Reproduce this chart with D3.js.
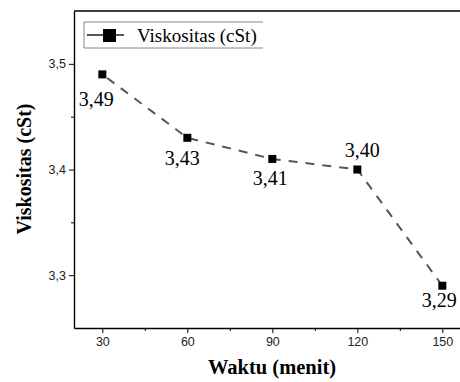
<!DOCTYPE html>
<html>
<head>
<meta charset="utf-8">
<script src="https://cdn.jsdelivr.net/npm/d3@7"></script>
<style>
  body { margin: 0; background: white; }
  svg { display: block; }
</style>
</head>
<body>
<div id="chart"></div>
<script>
var waktu = [30, 60, 90, 120, 150];
var viskositas = [3.49, 3.43, 3.41, 3.40, 3.29];
var labels = ['3,49', '3,43', '3,41', '3,40', '3,29'];
// label offset relative to marker: [dx, dy]
var labelPos = [[-6, 32], [-5, 27], [-2, 26], [5, -13], [-3, 21]];
var xTicks = [30, 60, 90, 120, 150];
var yTicks = [3.3, 3.4, 3.5];

var WIDTH = 460, HEIGHT = 382;
var plotLeft = 74, plotTop = 11, plotBottom = 328;
var serif = "'Liberation Serif', 'Times New Roman', serif";

var svg = d3.select('#chart').append('svg')
  .attr('width', WIDTH)
  .attr('height', HEIGHT);

var x = d3.scaleLinear().domain([20, 160]).range([plotLeft, plotLeft + 85 / 30 * 140]);
var y = d3.scaleLinear().domain([3.25, 3.55]).range([plotBottom, plotTop]);

// minor ticks
var xMinor = [45, 75, 105, 135];
var yMinor = [3.35, 3.45];

svg.append('g')
  .attr('transform', 'translate(0,' + plotBottom + ')')
  .call(d3.axisBottom(x).tickValues(xTicks).tickSize(5).tickPadding(4).tickSizeOuter(0));
svg.append('g')
  .attr('transform', 'translate(0,' + plotBottom + ')')
  .call(d3.axisBottom(x).tickValues(xMinor).tickSize(3).tickFormat('').tickSizeOuter(0))
  .select('.domain').remove();

svg.append('g')
  .attr('transform', 'translate(' + plotLeft + ',0)')
  .call(d3.axisLeft(y).tickValues(yTicks).tickSize(5).tickPadding(3).tickSizeOuter(0)
    .tickFormat(function(d) { return d3.format('.1f')(d).replace('.', ','); }));
svg.append('g')
  .attr('transform', 'translate(' + plotLeft + ',0)')
  .call(d3.axisLeft(y).tickValues(yMinor).tickSize(3).tickFormat('').tickSizeOuter(0))
  .select('.domain').remove();

svg.selectAll('.domain').attr('stroke', '#000').attr('stroke-width', 1.4);
svg.selectAll('.tick line').attr('stroke', '#000').attr('stroke-width', 1);
svg.selectAll('.tick text')
  .attr('font-family', "'Liberation Sans', Arial, sans-serif")
  .attr('font-size', '12.5px')
  .attr('fill', '#222');

// top frame line
svg.append('line')
  .attr('x1', plotLeft).attr('x2', WIDTH)
  .attr('y1', plotTop).attr('y2', plotTop)
  .attr('stroke', '#000').attr('stroke-width', 1.4);

// dashed line
var line = d3.line()
  .x(function(d, i) { return x(waktu[i]); })
  .y(function(d) { return y(d); });

svg.append('path')
  .datum(viskositas)
  .attr('d', line)
  .attr('fill', 'none')
  .attr('stroke', '#555')
  .attr('stroke-width', 2)
  .attr('stroke-dasharray', '9,8')
  .attr('stroke-dashoffset', -6);

var ms = 8;
svg.selectAll('rect.pt')
  .data(viskositas)
  .enter().append('rect')
  .attr('class', 'pt')
  .attr('x', function(d, i) { return x(waktu[i]) - ms / 2; })
  .attr('y', function(d) { return y(d) - ms / 2; })
  .attr('width', ms).attr('height', ms)
  .attr('fill', '#000');

svg.selectAll('text.lbl')
  .data(viskositas)
  .enter().append('text')
  .attr('class', 'lbl')
  .attr('x', function(d, i) { return x(waktu[i]) + labelPos[i][0]; })
  .attr('y', function(d, i) { return y(d) + labelPos[i][1]; })
  .attr('text-anchor', 'middle')
  .attr('font-family', serif)
  .attr('font-size', '20px')
  .attr('fill', '#000')
  .text(function(d, i) { return labels[i]; });

// legend
var lg = svg.append('g');
lg.append('path')
  .attr('d', 'M263,22H84V48H263')
  .attr('fill', 'none')
  .attr('stroke', '#888')
  .attr('stroke-width', 1);
lg.append('line')
  .attr('x1', 87).attr('x2', 124)
  .attr('y1', 35).attr('y2', 35)
  .attr('stroke', '#555').attr('stroke-width', 2);
lg.append('rect')
  .attr('x', 103).attr('y', 29)
  .attr('width', 13).attr('height', 13)
  .attr('fill', '#000');
lg.append('text')
  .attr('x', 137).attr('y', 42)
  .attr('font-family', serif)
  .attr('font-size', '19px')
  .text('Viskositas (cSt)');

// axis titles
svg.append('text')
  .attr('x', 272).attr('y', 374)
  .attr('text-anchor', 'middle')
  .attr('font-family', serif)
  .attr('font-weight', 'bold')
  .attr('font-size', '20.5px')
  .text('Waktu (menit)');

svg.append('text')
  .attr('transform', 'translate(31,169) rotate(-90)')
  .attr('text-anchor', 'middle')
  .attr('font-family', serif)
  .attr('font-weight', 'bold')
  .attr('font-size', '20px')
  .text('Viskositas (cSt)');
</script>
</body>
</html>
